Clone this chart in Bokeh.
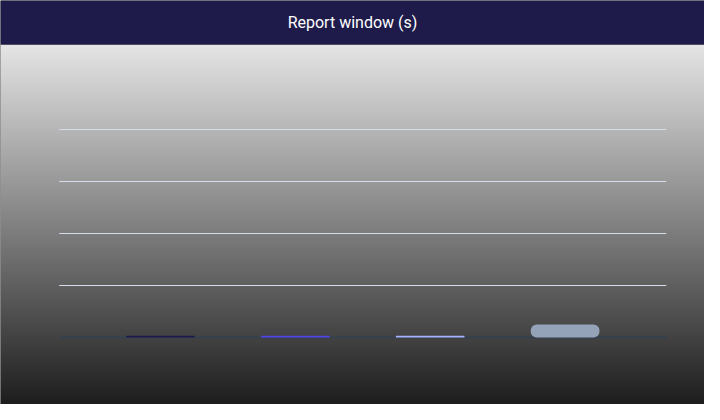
import numpy as np
from bokeh.plotting import figure
from bokeh.models import Range1d, ColumnDataSource
from bokeh.core.properties import value
from bokeh.embed import file_html
from bokeh.resources import INLINE

# ---- data ----
title = "Report window (s)"
categories = ["P50", "P75", "P90", "P99"]
values = [2, 2, 2, 15]
colors = ["#1e1b4b", "#4f46e5", "#a5b4fc", "#94a3b8"]
y_ticks = [0, 60, 120, 180, 240]

# ---- layout constants (pixels) ----
W, H = 704, 404
px_per_cat = 134.9
first_center_px = 159.9
baseline_px = 337.0
top_tick_px = 129.0
band_px = 44.0
side_pad = 0.75

x_start = -first_center_px / px_per_cat
x_end = x_start + W / px_per_cat
ppu = (baseline_px - top_tick_px) / (y_ticks[-1] - y_ticks[0])
y_end = baseline_px / ppu
y_start = y_end - H / ppu
band_bottom = y_end - band_px / ppu

p = figure(width=W, height=H,
           x_range=Range1d(x_start, x_end), y_range=Range1d(y_start, y_end),
           x_axis_type=None, y_axis_type=None, min_border=0,
           toolbar_location=None, output_backend="svg")
p.outline_line_color = None
p.background_fill_color = "#1e1e1e"
p.border_fill_color = "#1e1e1e"
p.xgrid.visible = False
p.ygrid.visible = False

# background gradient (row 0 = bottom)
N = 400
top_c, bot_c = 229, 30
t = np.linspace(0, 1, N)
g = (bot_c + (top_c - bot_c) * t).astype(np.uint8)
img = np.empty((N, 1), dtype=np.uint32)
view = img.view(dtype=np.uint8).reshape((N, 1, 4))
view[:, 0, 0] = g
view[:, 0, 1] = g
view[:, 0, 2] = g
view[:, 0, 3] = 255
p.image_rgba(image=[img], x=x_start, y=y_start, dw=x_end - x_start, dh=band_bottom - y_start)

# title band
p.quad(left=[x_start], right=[x_end], bottom=[band_bottom], top=[y_end],
       fill_color="#1e1b4b", line_color=None)
p.text(x=[(x_start + x_end) / 2], y=[(band_bottom + y_end) / 2], text=[title],
       text_font=value("Roboto"), text_font_size="16px", text_color="#ffffff",
       text_align="center", text_baseline="middle")

# grid lines
n = len(categories)
gy = y_ticks[1:]
p.segment(x0=[-side_pad] * len(gy), x1=[n - 1 + side_pad] * len(gy), y0=gy, y1=gy,
          line_color="#d6dcea", line_width=1)
# baseline
p.segment(x0=[-side_pad], x1=[n - 1 + side_pad], y0=[y_ticks[0]], y1=[y_ticks[0]],
          line_color="#334155", line_width=1.5)

# bars
src = ColumnDataSource(dict(x=list(range(n)), top=values, color=colors, cat=categories))
p.vbar(x="x", top="top", bottom=0, width=0.51, source=src,
       fill_color="color", line_color=None, border_radius=6)

open("out.html", "w").write(file_html(p, INLINE))
